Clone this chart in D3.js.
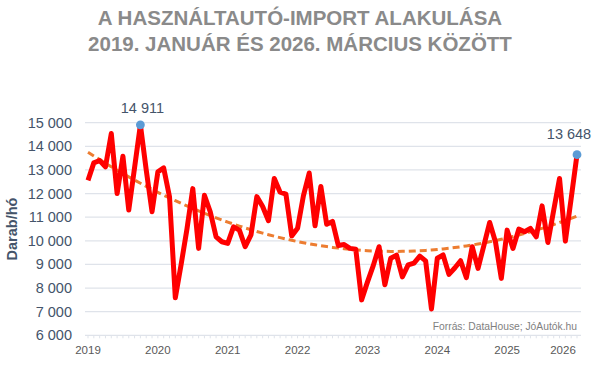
<!doctype html>
<html>
<head>
  <meta charset="utf-8">
  <script src="https://cdnjs.cloudflare.com/ajax/libs/d3/7.8.5/d3.min.js" type="text/JavaScript"></script>
  <style>
    body { margin: 0; background: #fff; }
    text { font-family: "Liberation Sans", Arial, sans-serif; }
  </style>
</head>
<body>
<svg height="369" width="598"></svg>
<script type="text/javascript">
// monthly used car imports (pieces / month), one value per category on the x axis
var titleLines = ["A HASZNÁLTAUTÓ-IMPORT ALAKULÁSA", "2019. JANUÁR ÉS 2026. MÁRCIUS KÖZÖTT"];
var imports = [
  12560, 13300, 13400, 13130, 14540, 12000, 13580, 11300, 13100, 14911, 13000, 11230,
  12920, 13085, 11870, 7590, 9000, 10500, 12210, 9680, 11930, 11230, 10170, 9960,
  9890, 10590, 10450, 9750, 10255, 11870, 11450, 10850, 12640, 12060, 11980, 10210,
  10530, 11900, 12870, 10635, 12300, 10700, 10820, 9800, 9840, 9680, 9640, 7500,
  8250, 8950, 9750, 8140, 9260, 9390, 8470, 8980, 9060, 9350, 9150, 7115,
  9260, 9400, 8580, 8850, 9157, 8440, 9748, 8833, 9800, 10776, 9950, 8410,
  10452, 9678, 10494, 10382, 10523, 10171, 11480, 9931, 11297, 12635, 9987, 11800,
  13648
];
var yTicks = [6000, 7000, 8000, 9000, 10000, 11000, 12000, 13000, 14000, 15000];
var xYears = [2019, 2020, 2021, 2022, 2023, 2024, 2025, 2026];
var yTitle = "Darab/hó";
var source = "Forrás: DataHouse; JóAutók.hu";

var data = imports.map((v, i) => ({i: i, value: v}));

var svg = d3.select("svg");
var x = d3.scaleLinear().domain([0, imports.length - 1]).range([88, 577]);
var y = d3.scaleLinear().domain([6000, 15000]).range([335.3, 122.7]);

var fmt = n => d3.format(",")(n).replace(/,/g, " ");

// title
svg.append("g").selectAll("text")
  .data(titleLines)
  .enter().append("text")
  .attr("x", 300)
  .attr("y", (d, i) => 25 + i * 26)
  .attr("text-anchor", "middle")
  .style("font-size", "20.5px")
  .style("font-weight", "bold")
  .style("fill", "#8a8a8a")
  .text(d => d);

// grid + y labels
var grid = svg.append("g");
grid.selectAll("line")
  .data(yTicks)
  .enter().append("line")
  .attr("x1", 85).attr("x2", 581)
  .attr("y1", d => y(d)).attr("y2", d => y(d))
  .style("stroke", "#dfe3ea")
  .style("stroke-width", "1.3px");
grid.selectAll("text")
  .data(yTicks)
  .enter().append("text")
  .attr("x", 72)
  .attr("y", d => y(d) + 5)
  .attr("text-anchor", "end")
  .style("font-size", "14.5px")
  .style("fill", "#44546a")
  .text(d => fmt(d));

svg.append("text")
  .attr("transform", "translate(17,229) rotate(-90)")
  .attr("text-anchor", "middle")
  .style("font-size", "14.5px")
  .style("font-weight", "bold")
  .style("fill", "#44546a")
  .text(yTitle);

// x axis: a minor tick per month, a label every 12 months
var xAxis = svg.append("g");
xAxis.selectAll("line")
  .data(d3.range(imports.length))
  .enter().append("line")
  .attr("x1", d => x(d)).attr("x2", d => x(d))
  .attr("y1", y(6000)).attr("y2", y(6000) + 3)
  .style("stroke", "#dfe3ea")
  .style("stroke-width", "1px");
xAxis.selectAll("text")
  .data(xYears)
  .enter().append("text")
  .attr("x", (d, k) => Math.min(x(k * 12), 563))
  .attr("y", 354)
  .attr("text-anchor", "middle")
  .style("font-size", "11.5px")
  .style("fill", "#595959")
  .text(d => d);

// quadratic trend (least squares over month index)
function quadFit(vals) {
  var s = [0, 0, 0, 0, 0], t = [0, 0, 0];
  vals.forEach((v, i) => {
    for (var k = 0; k < 5; k++) s[k] += Math.pow(i, k);
    for (var k = 0; k < 3; k++) t[k] += v * Math.pow(i, k);
  });
  var m = [[s[0], s[1], s[2], t[0]], [s[1], s[2], s[3], t[1]], [s[2], s[3], s[4], t[2]]];
  for (var c = 0; c < 3; c++) {
    for (var r = c + 1; r < 3; r++) {
      var f = m[r][c] / m[c][c];
      for (var k = c; k < 4; k++) m[r][k] -= f * m[c][k];
    }
  }
  var b = [0, 0, 0];
  for (var r = 2; r >= 0; r--) {
    var acc = m[r][3];
    for (var k = r + 1; k < 3; k++) acc -= m[r][k] * b[k];
    b[r] = acc / m[r][r];
  }
  return i => b[0] + b[1] * i + b[2] * i * i;
}
var trend = quadFit(imports);

svg.append("path")
  .datum(data)
  .attr("d", d3.line().x(d => x(d.i)).y(d => y(trend(d.i))))
  .style("fill", "none")
  .style("stroke", "#ed7d31")
  .style("stroke-width", "3px")
  .style("stroke-dasharray", "7,4");

svg.append("path")
  .datum(data)
  .attr("d", d3.line().x(d => x(d.i)).y(d => y(d.value)))
  .style("fill", "none")
  .style("stroke", "#ff0000")
  .style("stroke-width", "5px")
  .style("stroke-linejoin", "round");

// highlighted points: max and last
var maxPt = data.reduce((a, b) => b.value > a.value ? b : a);
var lastPt = data[data.length - 1];
var marks = svg.append("g").selectAll("g")
  .data([maxPt, lastPt])
  .enter().append("g");
marks.append("circle")
  .attr("cx", d => x(d.i))
  .attr("cy", d => y(d.value))
  .attr("r", 4.4)
  .style("fill", "#5b9bd5");
marks.append("text")
  .attr("x", (d, k) => x(d.i) + (k ? -8 : 2))
  .attr("y", (d, k) => y(d.value) - (k ? 15.5 : 12))
  .attr("text-anchor", "middle")
  .style("font-size", "14.5px")
  .style("fill", "#44546a")
  .text(d => fmt(d.value));

svg.append("text")
  .attr("x", 577)
  .attr("y", 330)
  .attr("text-anchor", "end")
  .style("font-size", "10.3px")
  .style("fill", "#7f7f7f")
  .text(source);
</script>
</body>
</html>
